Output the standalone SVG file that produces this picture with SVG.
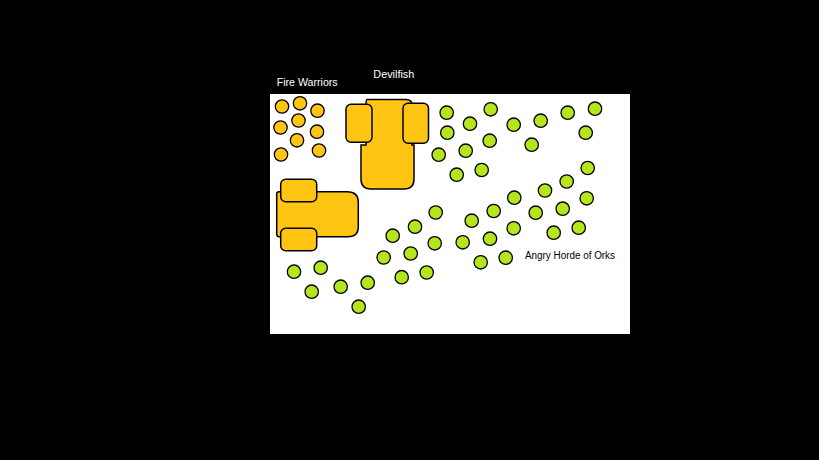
<svg xmlns="http://www.w3.org/2000/svg" width="819" height="460" viewBox="0 0 819 460">
<style>
.fw{fill:#ffc512;stroke:#000;stroke-width:1.3}
.ork{fill:#b5e61d;stroke:#000;stroke-width:1.3}
.veh{fill:#ffc512;stroke:#000;stroke-width:1.5}
.lbl{font-family:"Liberation Sans",Arial,sans-serif;font-size:10px}
</style>
<rect x="0" y="0" width="819" height="460" fill="#000"/>
<rect x="270" y="94" width="360" height="240" fill="#fff"/>
<g id="fire-warriors">
<circle class="fw" cx="282" cy="106.5" r="6.7"/>
<circle class="fw" cx="300" cy="103.3" r="6.7"/>
<circle class="fw" cx="317.5" cy="110.7" r="6.7"/>
<circle class="fw" cx="280.5" cy="127.5" r="6.7"/>
<circle class="fw" cx="298.5" cy="120.5" r="6.7"/>
<circle class="fw" cx="317" cy="131.7" r="6.7"/>
<circle class="fw" cx="297" cy="140.3" r="6.7"/>
<circle class="fw" cx="281" cy="154.5" r="6.7"/>
<circle class="fw" cx="319" cy="150.5" r="6.7"/>
</g>
<g id="devilfish">
<path class="veh" d="M367 99.5 H406 Q412 99.5 412 105 V145 H414 V179 Q414 189 404 189 H371 Q361 189 361 179 V145 H366 V105 Q366 99.5 367 99.5 Z"/>
<rect class="veh" x="346" y="104.3" width="26" height="38" rx="5"/>
<rect class="veh" x="403" y="103.3" width="25.5" height="40" rx="5"/>
</g>
<g id="vehicle-2">
<path class="veh" d="M279 191.7 H347 Q358.3 191.7 358.3 202 V227 Q358.3 236.7 348 236.7 H279 Q276.7 236.7 276.7 234 V194 Q276.7 191.7 279 191.7 Z"/>
<rect class="veh" x="280.7" y="179.3" width="36" height="22.4" rx="5"/>
<rect class="veh" x="280.7" y="228.3" width="36" height="22.4" rx="5"/>
</g>
<g id="orks">
<circle class="ork" cx="446.7" cy="112.7" r="6.7"/>
<circle class="ork" cx="490.7" cy="109.3" r="6.7"/>
<circle class="ork" cx="470" cy="123.7" r="6.7"/>
<circle class="ork" cx="447.3" cy="132.7" r="6.7"/>
<circle class="ork" cx="513.7" cy="124.7" r="6.7"/>
<circle class="ork" cx="540.7" cy="120.7" r="6.7"/>
<circle class="ork" cx="567.7" cy="112.7" r="6.7"/>
<circle class="ork" cx="595" cy="108.7" r="6.7"/>
<circle class="ork" cx="585.7" cy="132.7" r="6.7"/>
<circle class="ork" cx="489.7" cy="140.7" r="6.7"/>
<circle class="ork" cx="465.7" cy="150.7" r="6.7"/>
<circle class="ork" cx="438.7" cy="154.7" r="6.7"/>
<circle class="ork" cx="531.7" cy="144.7" r="6.7"/>
<circle class="ork" cx="456.7" cy="174.7" r="6.7"/>
<circle class="ork" cx="481.7" cy="170" r="6.7"/>
<circle class="ork" cx="587.7" cy="168" r="6.7"/>
<circle class="ork" cx="566.7" cy="181.5" r="6.7"/>
<circle class="ork" cx="545" cy="190.5" r="6.7"/>
<circle class="ork" cx="514.3" cy="197.7" r="6.7"/>
<circle class="ork" cx="586.7" cy="198.3" r="6.7"/>
<circle class="ork" cx="562.7" cy="208.7" r="6.7"/>
<circle class="ork" cx="535.7" cy="212.7" r="6.7"/>
<circle class="ork" cx="493.7" cy="211" r="6.7"/>
<circle class="ork" cx="471.7" cy="220.7" r="6.7"/>
<circle class="ork" cx="435.7" cy="212.5" r="6.7"/>
<circle class="ork" cx="415" cy="226.7" r="6.7"/>
<circle class="ork" cx="392.7" cy="235.7" r="6.7"/>
<circle class="ork" cx="434.7" cy="243.3" r="6.7"/>
<circle class="ork" cx="462.7" cy="242.3" r="6.7"/>
<circle class="ork" cx="490" cy="238.7" r="6.7"/>
<circle class="ork" cx="513.7" cy="228.3" r="6.7"/>
<circle class="ork" cx="578.7" cy="227.7" r="6.7"/>
<circle class="ork" cx="553.7" cy="232.7" r="6.7"/>
<circle class="ork" cx="383.7" cy="257.5" r="6.7"/>
<circle class="ork" cx="410.7" cy="253.5" r="6.7"/>
<circle class="ork" cx="426.7" cy="272.5" r="6.7"/>
<circle class="ork" cx="401.7" cy="277.2" r="6.7"/>
<circle class="ork" cx="480.7" cy="262.3" r="6.7"/>
<circle class="ork" cx="505.7" cy="257.7" r="6.7"/>
<circle class="ork" cx="294" cy="271.7" r="6.7"/>
<circle class="ork" cx="320.7" cy="267.7" r="6.7"/>
<circle class="ork" cx="311.7" cy="291.7" r="6.7"/>
<circle class="ork" cx="340.7" cy="286.7" r="6.7"/>
<circle class="ork" cx="367.7" cy="282.7" r="6.7"/>
<circle class="ork" cx="358.7" cy="306.7" r="6.7"/>
</g>
<g id="labels">
<text class="lbl" x="276.7" y="85.5" fill="#fff" textLength="61" lengthAdjust="spacingAndGlyphs">Fire Warriors</text>
<text class="lbl" x="373.3" y="77.5" fill="#fff" textLength="41" lengthAdjust="spacingAndGlyphs">Devilfish</text>
<text class="lbl" x="525" y="259" fill="#000" textLength="90" lengthAdjust="spacingAndGlyphs">Angry Horde of Orks</text>
</g>
<g id="connectors"></g>
</svg>
